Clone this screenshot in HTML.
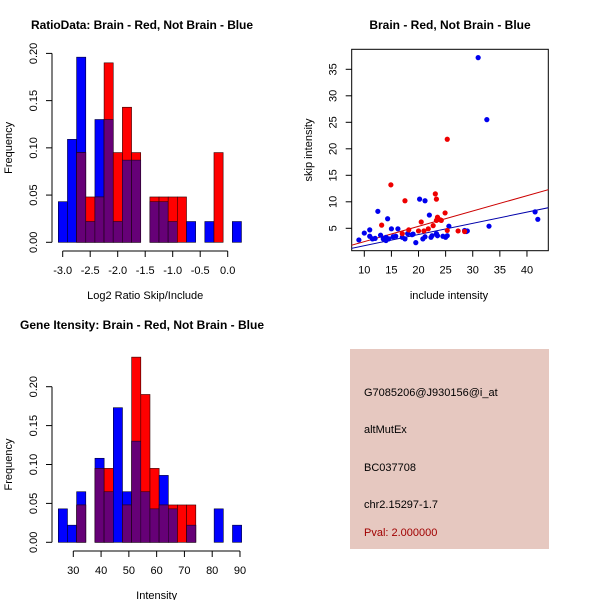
<!DOCTYPE html>
<html><head><meta charset="utf-8"><style>
body{margin:0;background:#fff}
svg text{font-family:"Liberation Sans",sans-serif;fill:#000}
</style></head><body>
<svg id="s" width="600" height="600" xmlns="http://www.w3.org/2000/svg">
<text x="142" y="29" font-size="12" font-weight="bold" text-anchor="middle" textLength="222">RatioData: Brain - Red, Not Brain - Blue</text>
<text x="450" y="29" font-size="12" font-weight="bold" text-anchor="middle">Brain - Red, Not Brain - Blue</text>
<text x="142" y="329" font-size="12" font-weight="bold" text-anchor="middle">Gene Itensity: Brain - Red, Not Brain - Blue</text>
<g id="h1"></g>
<g id="h2"></g>
<g id="sc"></g>
<g>
<rect x="350" y="349" width="199" height="200" fill="#e6c8c0"/>
<text x="364" y="396" font-size="11">G7085206@J930156@i_at</text>
<text x="364" y="433" font-size="11">altMutEx</text>
<text x="364" y="471" font-size="11">BC037708</text>
<text x="364" y="508" font-size="11">chr2.15297-1.7</text>
<text x="364" y="536" font-size="11" fill="#a00000" style="fill:#a00000">Pval: 2.000000</text>
</g>
</svg>
<script>
const ratioBlue=[0.043,0.109,0.196,0.022,0.130,0.130,0.022,0.087,0.087,0,0.043,0.043,0.022,0,0.022,0,0.022,0,0,0.022];
const ratioRed=[0,0,0.095,0.048,0.048,0.190,0.095,0.143,0.095,0,0.048,0.048,0.048,0.048,0,0,0,0.095,0,0];
const ratioTicks=[-3.0,-2.5,-2.0,-1.5,-1.0,-0.5,0.0];
const ratioTickLabels=["-3.0","-2.5","-2.0","-1.5","-1.0","-0.5","0.0"];
const ratioStart=-3.08, ratioBinW=0.1665;
const intBlue=[0.043,0.022,0.065,0,0.108,0.065,0.173,0.065,0.130,0.065,0.043,0.086,0.043,0,0.022,0,0,0.043,0,0.022];
const intRed=[0,0,0.048,0,0.095,0.095,0,0.048,0.238,0.190,0.095,0.048,0.048,0.048,0.048,0,0,0,0,0];
const intTicks=[30,40,50,60,70,80,90];
const intStart=24.6, intBinW=3.3;
const freqTicks=[0,0.05,0.10,0.15,0.20];
const freqLabels=["0.00","0.05","0.10","0.15","0.20"];
const blueX=[9,10,11,11,11.5,12,12.5,13,13.5,14,14,14.3,14.5,15,15.3,15.8,16.2,17,17.5,18,18.8,19,19.5,20.2,20.8,21.2,21.2,22,22.3,22.5,23.3,23.5,24.5,25,25.3,25.6,28.5,28.8,29,31,32.6,33,41.5,42];
const blueY=[2.8,4.1,4.7,3.5,3,3.1,8.2,3.7,3,2.7,3.3,6.8,3,4.9,3.4,3.5,4.9,3.3,3,4,3.8,3.9,2.3,10.5,3,10.2,3.4,7.5,3.3,3.6,4,3.6,3.5,3.3,3.6,5.4,4.6,4.4,4.5,37.2,25.5,5.4,8.1,6.7];
const redX=[13.2,14.9,17,17.5,18.2,20,20.5,21,21.8,22.7,23.1,23.3,23.3,23.5,24,24.2,24.9,25.3,25.3,27.3,28.5];
const redY=[5.6,13.2,4,10.2,4.7,4.5,6.2,4.5,4.9,5.5,11.5,10.5,6.5,7.1,6.6,6.5,7.9,4.6,21.8,4.5,4.4];
const redFit=[-0.41,0.289];
const blueFit=[-0.39,0.211];
const scXTicks=[10,15,20,25,30,35,40];
const scYTicks=[5,10,15,20,25,30,35];

const NS="http://www.w3.org/2000/svg";
function mk(p,tag,a){const e=document.createElementNS(NS,tag);for(const k in a)e.setAttribute(k,a[k]);p.appendChild(e);return e;}

function hist(g,blue,red,start,bw,xs,ys,ticks,labels,xlab,axisY,yAxisX){
  const y0=ys(0);
  for(let i=0;i<blue.length;i++){
    const xa=xs(start+i*bw), xb=xs(start+(i+1)*bw);
    const b=blue[i], r=red[i], m=Math.min(b,r);
    if(b>0){const e=mk(g,'rect',{x:xa,y:ys(b),width:xb-xa,height:y0-ys(b),fill:'#0000ff',stroke:'#000030','stroke-width':0.6});
      }
    if(r>0){const e=mk(g,'rect',{x:xa,y:ys(r),width:xb-xa,height:y0-ys(r),fill:'#ff0000',stroke:'#300000','stroke-width':0.6});
      }
    if(m>0){const e=mk(g,'rect',{x:xa,y:ys(m),width:xb-xa,height:y0-ys(m),fill:'#660077',stroke:'#200020','stroke-width':0.6});
      }
  }
  const ax=mk(g,'line',{x1:xs(ticks[0]),x2:xs(ticks[ticks.length-1]),y1:axisY,y2:axisY,stroke:'#000'});
  
  ticks.forEach((t,i)=>{mk(g,'line',{x1:xs(t),x2:xs(t),y1:axisY,y2:axisY+6,stroke:'#000'});
    const tx=mk(g,'text',{x:xs(t),y:axisY+23,'font-size':11,'text-anchor':'middle'});tx.textContent=labels[i];
    });
  const xl=mk(g,'text',{x:(xs(ticks[0])+xs(ticks[ticks.length-1]))/2,y:axisY+48,'font-size':11,'text-anchor':'middle'});xl.textContent=xlab;
  
  const ya=mk(g,'line',{x1:yAxisX,x2:yAxisX,y1:ys(0),y2:ys(0.2),stroke:'#000'});
  
  freqTicks.forEach((t,i)=>{mk(g,'line',{x1:yAxisX-6,x2:yAxisX,y1:ys(t),y2:ys(t),stroke:'#000'});
    const lx=yAxisX-15;
    const tx=mk(g,'text',{x:lx,y:ys(t),'font-size':11,'text-anchor':'middle',transform:`rotate(-90 ${lx} ${ys(t)})`});tx.textContent=freqLabels[i];
    });
  const yl=mk(g,'text',{x:12,y:(ys(0)+ys(0.2))/2,'font-size':11,'text-anchor':'middle',transform:`rotate(-90 12 ${(ys(0)+ys(0.2))/2})`});yl.textContent='Frequency';
  
}
{const xs=v=>62.7+(v+3)*55, ys=v=>242.3-v*944.5;
 hist(document.getElementById('h1'),ratioBlue,ratioRed,ratioStart,ratioBinW,xs,ys,ratioTicks,ratioTickLabels,'Log2 Ratio Skip/Include',251,52);}
{const xs=v=>73.3+(v-30)*2.778, ys=v=>542.3-v*778;
 hist(document.getElementById('h2'),intBlue,intRed,intStart,intBinW,xs,ys,intTicks,intTicks.map(String),'Intensity',551,52);}
{const g=document.getElementById('sc');
 const xs=v=>364.3+(v-10)*5.422, ys=v=>228.3-(v-5)*5.3;
 const L=351.7,R=548.3,T=49.3,B=250.7;
 const fr=mk(g,'rect',{x:L,y:T,width:R-L,height:B-T,fill:'none',stroke:'#000'});
 
 scXTicks.forEach(t=>{mk(g,'line',{x1:xs(t),x2:xs(t),y1:B,y2:B+6,stroke:'#000'});
  const tx=mk(g,'text',{x:xs(t),y:B+23,'font-size':11,'text-anchor':'middle'});tx.textContent=t;
  });
 scYTicks.forEach(t=>{mk(g,'line',{x1:L-6,x2:L,y1:ys(t),y2:ys(t),stroke:'#000'});
  const lx=L-15;
  const tx=mk(g,'text',{x:lx,y:ys(t),'font-size':11,'text-anchor':'middle',transform:`rotate(-90 ${lx} ${ys(t)})`});tx.textContent=t;
  });
 const xl=mk(g,'text',{x:449,y:299,'font-size':11,'text-anchor':'middle'});xl.textContent='include intensity';
 
 const yl=mk(g,'text',{x:312,y:150,'font-size':11,'text-anchor':'middle',transform:'rotate(-90 312 150)'});yl.textContent='skip intensity';
 
 const cp=mk(g,'clipPath',{id:'scclip'});mk(cp,'rect',{x:L,y:T,width:R-L,height:B-T});
 const x1=7,x2=45;
 const rl=mk(g,'line',{x1:xs(x1),y1:ys(redFit[0]+redFit[1]*x1),x2:xs(x2),y2:ys(redFit[0]+redFit[1]*x2),stroke:'#cc0000','clip-path':'url(#scclip)'});
 
 const bl=mk(g,'line',{x1:xs(x1),y1:ys(blueFit[0]+blueFit[1]*x1),x2:xs(x2),y2:ys(blueFit[0]+blueFit[1]*x2),stroke:'#0000aa','clip-path':'url(#scclip)'});
 
 blueX.forEach((x,i)=>{const c=mk(g,'circle',{cx:xs(x),cy:ys(blueY[i]),r:2.6,fill:'#0000ee'});
  });
 redX.forEach((x,i)=>{const c=mk(g,'circle',{cx:xs(x),cy:ys(redY[i]),r:2.6,fill:'#ee0000'});
  });
}
</script>
</body></html>
